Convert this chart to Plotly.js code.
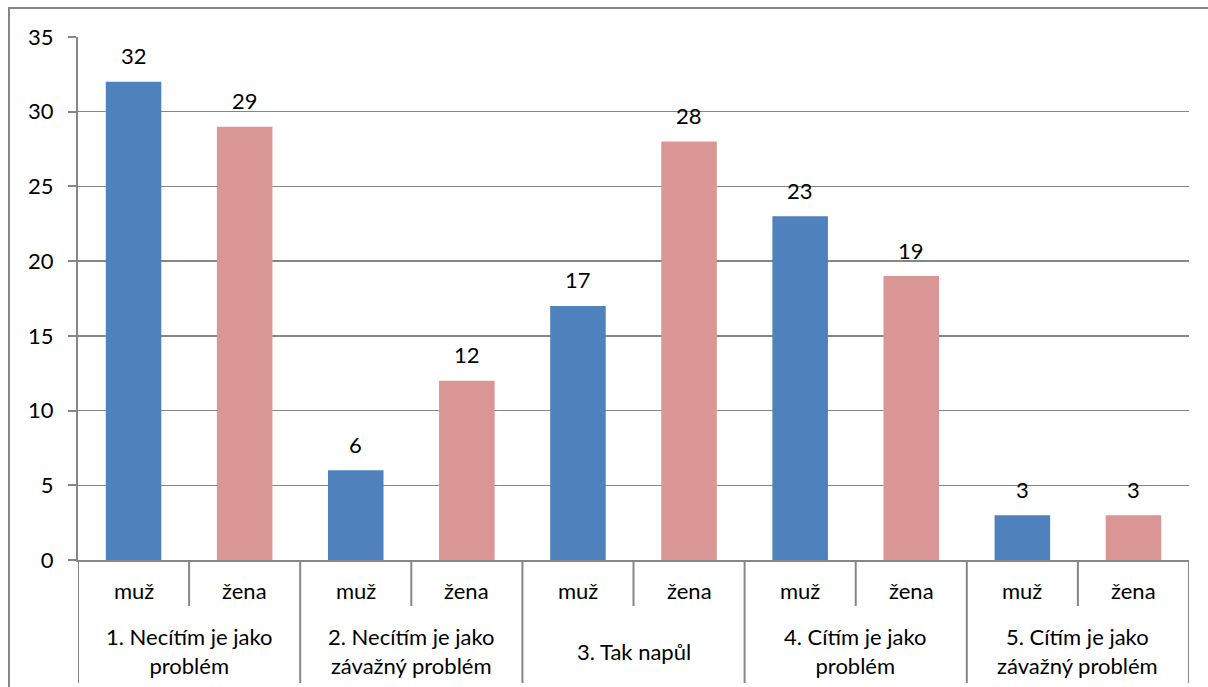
<!DOCTYPE html>
<html>
<head>
<meta charset="utf-8">
<script src="https://cdn.plot.ly/plotly-3.0.1.min.js"></script>
<style>html,body{margin:0;padding:0;background:#fff;}#chart{width:1208px;height:687px;}</style>
</head>
<body>
<div id="chart"></div>
<script>
// Data
const groups = ["1. Necítím je jako<br>problém", "2. Necítím je jako<br>závažný problém", "3. Tak napůl", "4. Cítím je jako<br>problém", "5. Cítím je jako<br>závažný problém"];
const genders = ["muž", "žena"];
const muz = [32, 6, 17, 23, 3];
const zena = [29, 12, 28, 19, 3];
const yTicks = [0, 5, 10, 15, 20, 25, 30, 35];

const colMuz = "#4F81BD", colZena = "#D99694";
const gridCol = "#868686";
const fontFam = "Lato, 'Open Sans', sans-serif";
const fs = 22;

// Build flat bar list (group-major)
const xs = [], ys = [], cols = [], innerLabels = [];
groups.forEach((g, gi) => {
  [muz[gi], zena[gi]].forEach((v, k) => {
    xs.push(xs.length);
    ys.push(v);
    cols.push(k === 0 ? colMuz : colZena);
    innerLabels.push(genders[k]);
  });
});
const n = xs.length;

const plotH = 687 - 37 - 127;
const px = p => p / plotH;

const annotations = [];
// value labels
xs.forEach((x, i) => {
  annotations.push({x: x, y: ys[i], xref: 'x', yref: 'y', text: String(ys[i]),
    showarrow: false, yanchor: 'middle', yshift: 26, font: {family: fontFam, size: fs, color: '#000'}});
});
// inner labels
xs.forEach((x, i) => {
  annotations.push({x: x, y: 0, xref: 'x', yref: 'paper', text: innerLabels[i],
    showarrow: false, yanchor: 'middle', yshift: -30, font: {family: fontFam, size: fs, color: '#000'}});
});
// outer labels
groups.forEach((g, gi) => {
  annotations.push({x: gi * 2 + 0.5, y: 0, xref: 'x', yref: 'paper', text: g,
    showarrow: false, yanchor: 'middle', yshift: -91, font: {family: fontFam, size: fs, color: '#000'}});
});

const shapes = [];
// inner separators
groups.forEach((g, gi) => {
  shapes.push({type: 'line', xref: 'x', yref: 'paper', x0: gi * 2 + 0.5, x1: gi * 2 + 0.5,
    y0: 0, y1: -px(46), line: {color: gridCol, width: 2}});
});
// outer separators
for (let gi = 0; gi <= groups.length; gi++) {
  shapes.push({type: 'line', xref: 'x', yref: 'paper', x0: gi * 2 - 0.5, x1: gi * 2 - 0.5,
    y0: 0, y1: -px(123), line: {color: gridCol, width: 2}});
}
// chart border
shapes.push({type: 'rect', xref: 'paper', yref: 'paper',
  x0: (9 - 78) / 1111, x1: (1215 - 78) / 1111, y0: px(560 - 8), y1: -px(140),
  line: {color: gridCol, width: 2}, fillcolor: 'rgba(0,0,0,0)'});

const trace = {
  type: 'bar', x: xs, y: ys, marker: {color: cols, line: {width: 0}},
  hoverinfo: 'skip'
};

const layout = {
  width: 1208, height: 687,
  margin: {l: 78, r: 19, t: 37, b: 127},
  paper_bgcolor: '#fff', plot_bgcolor: '#fff',
  bargap: 0.5,
  showlegend: false,
  font: {family: fontFam, size: fs, color: '#000'},
  xaxis: {range: [-0.5, n - 0.5], showticklabels: false, showgrid: false, zeroline: false,
    showline: true, linecolor: gridCol, linewidth: 2, ticks: '', fixedrange: true},
  yaxis: {range: [0, 35], tickvals: yTicks, ticktext: yTicks.map(String),
    showgrid: true, gridcolor: gridCol, gridwidth: 1.5, zeroline: false,
    showline: true, linecolor: gridCol, linewidth: 2,
    ticks: 'outside', ticklen: 8, tickwidth: 2, tickcolor: gridCol,
    ticklabelstandoff: 10, tickfont: {family: fontFam, size: fs, color: '#000'}, fixedrange: true},
  annotations: annotations,
  shapes: shapes
};

Plotly.newPlot('chart', [trace], layout, {displayModeBar: false, staticPlot: true});
</script>
</body>
</html>
